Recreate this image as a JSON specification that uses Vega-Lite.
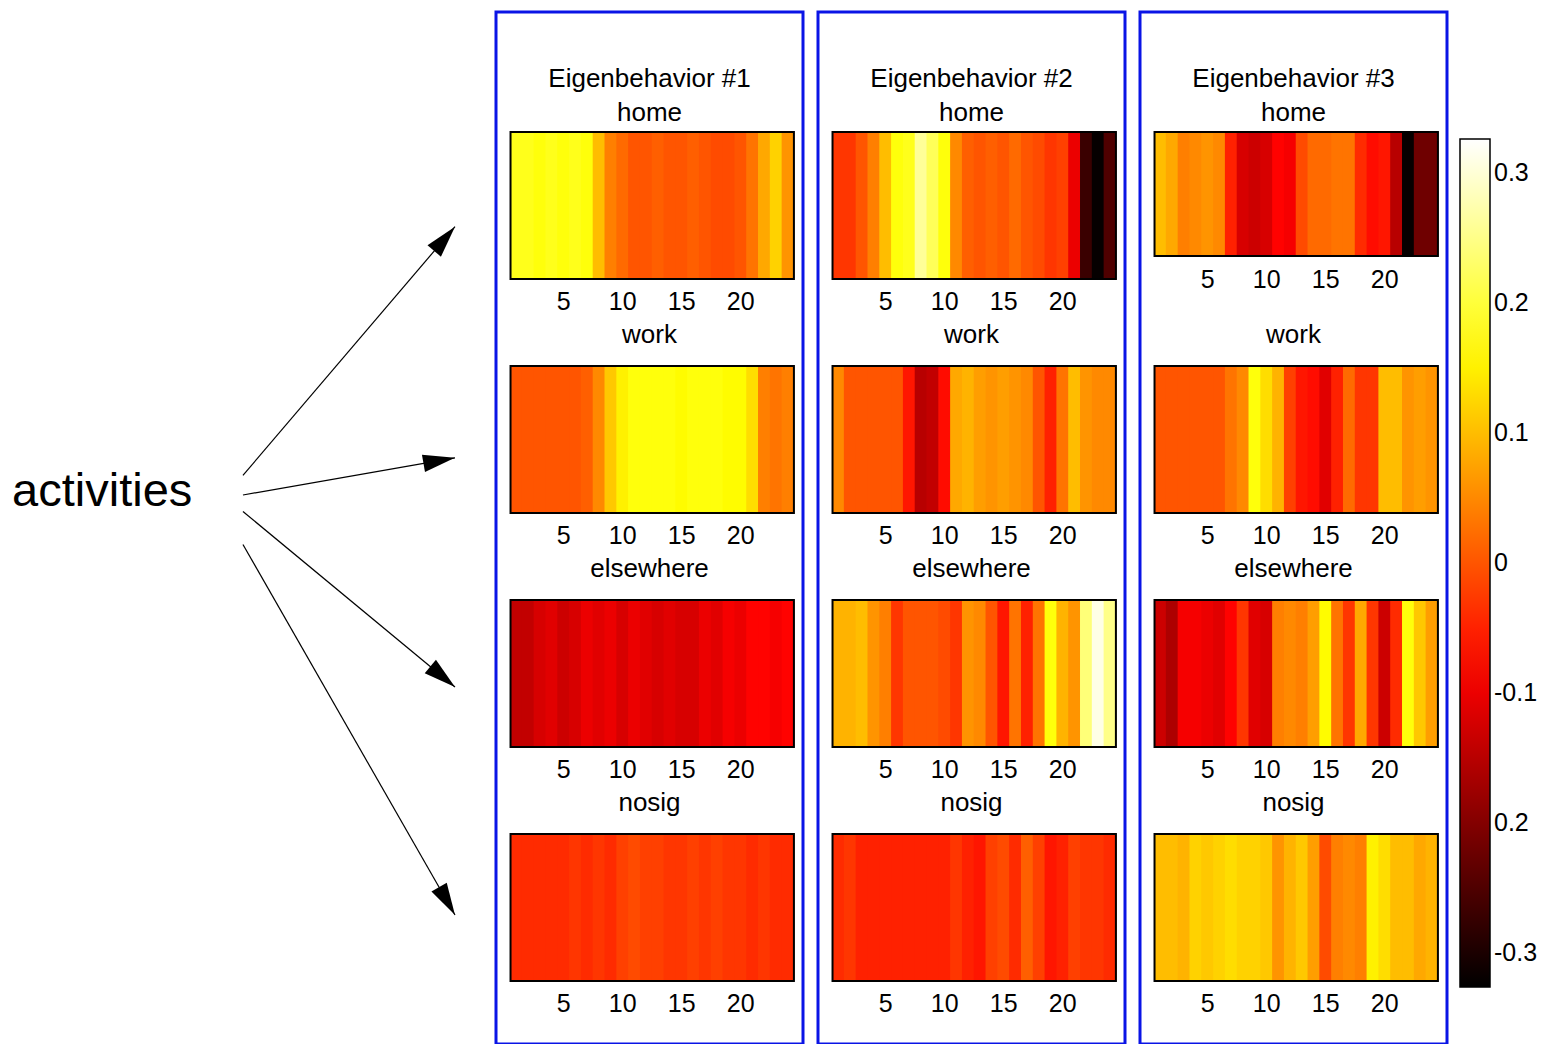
{
"$schema":"https://vega.github.io/schema/vega-lite/v6.json",
"padding":{"left":0,"top":10,"right":0,"bottom":0},
"background":"white",
"spacing":11,
"config":{"view":{"stroke":null},"font":"Liberation Sans"},
"datasets":{
"rows":[{"a":"home","h0":1,"h1":24},{"a":"work","h0":1,"h1":24},{"a":"elsewhere","h0":1,"h1":24},{"a":"nosig","h0":1,"h1":24}],
"arrows":[{"to":"home","x0":50.3,"y0":55.1,"x1":94.2,"y1":79.2},{"to":"work","x0":50.3,"y0":53.2,"x1":94.2,"y1":56.8},{"to":"elsewhere","x0":50.3,"y0":51.6,"x1":94.2,"y1":34.6},{"to":"nosig","x0":50.3,"y0":48.4,"x1":94.2,"y1":12.5}],
"cells":[
{"e":1,"a":"home","h":1,"v":0.18},{"e":1,"a":"home","h":2,"v":0.18},{"e":1,"a":"home","h":3,"v":0.17},{"e":1,"a":"home","h":4,"v":0.18},{"e":1,"a":"home","h":5,"v":0.17},{"e":1,"a":"home","h":6,"v":0.18},{"e":1,"a":"home","h":7,"v":0.17},{"e":1,"a":"home","h":8,"v":0.10},{"e":1,"a":"home","h":9,"v":0.04},{"e":1,"a":"home","h":10,"v":0.02},{"e":1,"a":"home","h":11,"v":0.00},{"e":1,"a":"home","h":12,"v":0.00},{"e":1,"a":"home","h":13,"v":0.01},{"e":1,"a":"home","h":14,"v":0.00},{"e":1,"a":"home","h":15,"v":0.00},{"e":1,"a":"home","h":16,"v":0.01},{"e":1,"a":"home","h":17,"v":0.00},{"e":1,"a":"home","h":18,"v":-0.01},{"e":1,"a":"home","h":19,"v":-0.01},{"e":1,"a":"home","h":20,"v":0.00},{"e":1,"a":"home","h":21,"v":0.03},{"e":1,"a":"home","h":22,"v":0.08},{"e":1,"a":"home","h":23,"v":0.12},{"e":1,"a":"home","h":24,"v":0.06},
{"e":1,"a":"work","h":1,"v":0.00},{"e":1,"a":"work","h":2,"v":0.00},{"e":1,"a":"work","h":3,"v":0.00},{"e":1,"a":"work","h":4,"v":0.00},{"e":1,"a":"work","h":5,"v":0.00},{"e":1,"a":"work","h":6,"v":0.00},{"e":1,"a":"work","h":7,"v":0.01},{"e":1,"a":"work","h":8,"v":0.05},{"e":1,"a":"work","h":9,"v":0.11},{"e":1,"a":"work","h":10,"v":0.15},{"e":1,"a":"work","h":11,"v":0.17},{"e":1,"a":"work","h":12,"v":0.17},{"e":1,"a":"work","h":13,"v":0.17},{"e":1,"a":"work","h":14,"v":0.17},{"e":1,"a":"work","h":15,"v":0.16},{"e":1,"a":"work","h":16,"v":0.17},{"e":1,"a":"work","h":17,"v":0.17},{"e":1,"a":"work","h":18,"v":0.17},{"e":1,"a":"work","h":19,"v":0.16},{"e":1,"a":"work","h":20,"v":0.16},{"e":1,"a":"work","h":21,"v":0.13},{"e":1,"a":"work","h":22,"v":0.04},{"e":1,"a":"work","h":23,"v":0.03},{"e":1,"a":"work","h":24,"v":0.04},
{"e":1,"a":"elsewhere","h":1,"v":-0.14},{"e":1,"a":"elsewhere","h":2,"v":-0.14},{"e":1,"a":"elsewhere","h":3,"v":-0.12},{"e":1,"a":"elsewhere","h":4,"v":-0.11},{"e":1,"a":"elsewhere","h":5,"v":-0.13},{"e":1,"a":"elsewhere","h":6,"v":-0.12},{"e":1,"a":"elsewhere","h":7,"v":-0.10},{"e":1,"a":"elsewhere","h":8,"v":-0.11},{"e":1,"a":"elsewhere","h":9,"v":-0.10},{"e":1,"a":"elsewhere","h":10,"v":-0.12},{"e":1,"a":"elsewhere","h":11,"v":-0.10},{"e":1,"a":"elsewhere","h":12,"v":-0.11},{"e":1,"a":"elsewhere","h":13,"v":-0.12},{"e":1,"a":"elsewhere","h":14,"v":-0.11},{"e":1,"a":"elsewhere","h":15,"v":-0.12},{"e":1,"a":"elsewhere","h":16,"v":-0.12},{"e":1,"a":"elsewhere","h":17,"v":-0.10},{"e":1,"a":"elsewhere","h":18,"v":-0.11},{"e":1,"a":"elsewhere","h":19,"v":-0.09},{"e":1,"a":"elsewhere","h":20,"v":-0.10},{"e":1,"a":"elsewhere","h":21,"v":-0.08},{"e":1,"a":"elsewhere","h":22,"v":-0.08},{"e":1,"a":"elsewhere","h":23,"v":-0.09},{"e":1,"a":"elsewhere","h":24,"v":-0.08},
{"e":1,"a":"nosig","h":1,"v":-0.04},{"e":1,"a":"nosig","h":2,"v":-0.04},{"e":1,"a":"nosig","h":3,"v":-0.04},{"e":1,"a":"nosig","h":4,"v":-0.04},{"e":1,"a":"nosig","h":5,"v":-0.04},{"e":1,"a":"nosig","h":6,"v":-0.03},{"e":1,"a":"nosig","h":7,"v":-0.04},{"e":1,"a":"nosig","h":8,"v":-0.03},{"e":1,"a":"nosig","h":9,"v":-0.04},{"e":1,"a":"nosig","h":10,"v":-0.02},{"e":1,"a":"nosig","h":11,"v":-0.01},{"e":1,"a":"nosig","h":12,"v":-0.02},{"e":1,"a":"nosig","h":13,"v":-0.02},{"e":1,"a":"nosig","h":14,"v":-0.03},{"e":1,"a":"nosig","h":15,"v":-0.03},{"e":1,"a":"nosig","h":16,"v":-0.02},{"e":1,"a":"nosig","h":17,"v":-0.03},{"e":1,"a":"nosig","h":18,"v":-0.02},{"e":1,"a":"nosig","h":19,"v":-0.03},{"e":1,"a":"nosig","h":20,"v":-0.03},{"e":1,"a":"nosig","h":21,"v":-0.04},{"e":1,"a":"nosig","h":22,"v":-0.03},{"e":1,"a":"nosig","h":23,"v":-0.04},{"e":1,"a":"nosig","h":24,"v":-0.04},
{"e":2,"a":"home","h":1,"v":-0.03},{"e":2,"a":"home","h":2,"v":-0.03},{"e":2,"a":"home","h":3,"v":0.00},{"e":2,"a":"home","h":4,"v":0.04},{"e":2,"a":"home","h":5,"v":0.10},{"e":2,"a":"home","h":6,"v":0.17},{"e":2,"a":"home","h":7,"v":0.18},{"e":2,"a":"home","h":8,"v":0.26},{"e":2,"a":"home","h":9,"v":0.22},{"e":2,"a":"home","h":10,"v":0.17},{"e":2,"a":"home","h":11,"v":0.05},{"e":2,"a":"home","h":12,"v":0.01},{"e":2,"a":"home","h":13,"v":0.00},{"e":2,"a":"home","h":14,"v":0.01},{"e":2,"a":"home","h":15,"v":0.00},{"e":2,"a":"home","h":16,"v":0.02},{"e":2,"a":"home","h":17,"v":0.00},{"e":2,"a":"home","h":18,"v":-0.01},{"e":2,"a":"home","h":19,"v":-0.03},{"e":2,"a":"home","h":20,"v":-0.02},{"e":2,"a":"home","h":21,"v":-0.10},{"e":2,"a":"home","h":22,"v":-0.27},{"e":2,"a":"home","h":23,"v":-0.32},{"e":2,"a":"home","h":24,"v":-0.25},
{"e":2,"a":"work","h":1,"v":0.05},{"e":2,"a":"work","h":2,"v":0.00},{"e":2,"a":"work","h":3,"v":0.00},{"e":2,"a":"work","h":4,"v":0.00},{"e":2,"a":"work","h":5,"v":0.00},{"e":2,"a":"work","h":6,"v":0.00},{"e":2,"a":"work","h":7,"v":-0.06},{"e":2,"a":"work","h":8,"v":-0.15},{"e":2,"a":"work","h":9,"v":-0.14},{"e":2,"a":"work","h":10,"v":-0.07},{"e":2,"a":"work","h":11,"v":0.08},{"e":2,"a":"work","h":12,"v":0.09},{"e":2,"a":"work","h":13,"v":0.07},{"e":2,"a":"work","h":14,"v":0.06},{"e":2,"a":"work","h":15,"v":0.07},{"e":2,"a":"work","h":16,"v":0.06},{"e":2,"a":"work","h":17,"v":0.05},{"e":2,"a":"work","h":18,"v":0.00},{"e":2,"a":"work","h":19,"v":-0.05},{"e":2,"a":"work","h":20,"v":0.03},{"e":2,"a":"work","h":21,"v":0.10},{"e":2,"a":"work","h":22,"v":0.06},{"e":2,"a":"work","h":23,"v":0.05},{"e":2,"a":"work","h":24,"v":0.05},
{"e":2,"a":"elsewhere","h":1,"v":0.09},{"e":2,"a":"elsewhere","h":2,"v":0.09},{"e":2,"a":"elsewhere","h":3,"v":0.10},{"e":2,"a":"elsewhere","h":4,"v":0.06},{"e":2,"a":"elsewhere","h":5,"v":0.04},{"e":2,"a":"elsewhere","h":6,"v":-0.03},{"e":2,"a":"elsewhere","h":7,"v":0.00},{"e":2,"a":"elsewhere","h":8,"v":0.00},{"e":2,"a":"elsewhere","h":9,"v":0.00},{"e":2,"a":"elsewhere","h":10,"v":-0.01},{"e":2,"a":"elsewhere","h":11,"v":-0.03},{"e":2,"a":"elsewhere","h":12,"v":0.06},{"e":2,"a":"elsewhere","h":13,"v":0.05},{"e":2,"a":"elsewhere","h":14,"v":0.00},{"e":2,"a":"elsewhere","h":15,"v":-0.06},{"e":2,"a":"elsewhere","h":16,"v":0.03},{"e":2,"a":"elsewhere","h":17,"v":-0.05},{"e":2,"a":"elsewhere","h":18,"v":0.03},{"e":2,"a":"elsewhere","h":19,"v":0.17},{"e":2,"a":"elsewhere","h":20,"v":0.09},{"e":2,"a":"elsewhere","h":21,"v":0.06},{"e":2,"a":"elsewhere","h":22,"v":0.24},{"e":2,"a":"elsewhere","h":23,"v":0.31},{"e":2,"a":"elsewhere","h":24,"v":0.25},
{"e":2,"a":"nosig","h":1,"v":-0.04},{"e":2,"a":"nosig","h":2,"v":-0.03},{"e":2,"a":"nosig","h":3,"v":-0.05},{"e":2,"a":"nosig","h":4,"v":-0.05},{"e":2,"a":"nosig","h":5,"v":-0.05},{"e":2,"a":"nosig","h":6,"v":-0.05},{"e":2,"a":"nosig","h":7,"v":-0.05},{"e":2,"a":"nosig","h":8,"v":-0.05},{"e":2,"a":"nosig","h":9,"v":-0.05},{"e":2,"a":"nosig","h":10,"v":-0.05},{"e":2,"a":"nosig","h":11,"v":-0.03},{"e":2,"a":"nosig","h":12,"v":-0.05},{"e":2,"a":"nosig","h":13,"v":-0.06},{"e":2,"a":"nosig","h":14,"v":-0.02},{"e":2,"a":"nosig","h":15,"v":-0.01},{"e":2,"a":"nosig","h":16,"v":-0.04},{"e":2,"a":"nosig","h":17,"v":0.01},{"e":2,"a":"nosig","h":18,"v":-0.02},{"e":2,"a":"nosig","h":19,"v":-0.06},{"e":2,"a":"nosig","h":20,"v":-0.05},{"e":2,"a":"nosig","h":21,"v":-0.02},{"e":2,"a":"nosig","h":22,"v":-0.03},{"e":2,"a":"nosig","h":23,"v":-0.03},{"e":2,"a":"nosig","h":24,"v":-0.04},
{"e":3,"a":"home","h":1,"v":0.10},{"e":3,"a":"home","h":2,"v":0.08},{"e":3,"a":"home","h":3,"v":0.04},{"e":3,"a":"home","h":4,"v":0.05},{"e":3,"a":"home","h":5,"v":0.06},{"e":3,"a":"home","h":6,"v":0.05},{"e":3,"a":"home","h":7,"v":-0.05},{"e":3,"a":"home","h":8,"v":-0.12},{"e":3,"a":"home","h":9,"v":-0.13},{"e":3,"a":"home","h":10,"v":-0.12},{"e":3,"a":"home","h":11,"v":-0.08},{"e":3,"a":"home","h":12,"v":-0.09},{"e":3,"a":"home","h":13,"v":-0.01},{"e":3,"a":"home","h":14,"v":0.02},{"e":3,"a":"home","h":15,"v":0.02},{"e":3,"a":"home","h":16,"v":0.03},{"e":3,"a":"home","h":17,"v":0.03},{"e":3,"a":"home","h":18,"v":-0.04},{"e":3,"a":"home","h":19,"v":-0.07},{"e":3,"a":"home","h":20,"v":-0.06},{"e":3,"a":"home","h":21,"v":-0.15},{"e":3,"a":"home","h":22,"v":-0.32},{"e":3,"a":"home","h":23,"v":-0.22},{"e":3,"a":"home","h":24,"v":-0.22},
{"e":3,"a":"work","h":1,"v":0.00},{"e":3,"a":"work","h":2,"v":0.00},{"e":3,"a":"work","h":3,"v":0.00},{"e":3,"a":"work","h":4,"v":0.00},{"e":3,"a":"work","h":5,"v":0.00},{"e":3,"a":"work","h":6,"v":0.00},{"e":3,"a":"work","h":7,"v":0.03},{"e":3,"a":"work","h":8,"v":0.05},{"e":3,"a":"work","h":9,"v":0.17},{"e":3,"a":"work","h":10,"v":0.13},{"e":3,"a":"work","h":11,"v":0.09},{"e":3,"a":"work","h":12,"v":-0.02},{"e":3,"a":"work","h":13,"v":-0.06},{"e":3,"a":"work","h":14,"v":-0.07},{"e":3,"a":"work","h":15,"v":-0.11},{"e":3,"a":"work","h":16,"v":-0.05},{"e":3,"a":"work","h":17,"v":0.02},{"e":3,"a":"work","h":18,"v":-0.03},{"e":3,"a":"work","h":19,"v":-0.03},{"e":3,"a":"work","h":20,"v":0.10},{"e":3,"a":"work","h":21,"v":0.10},{"e":3,"a":"work","h":22,"v":0.06},{"e":3,"a":"work","h":23,"v":0.07},{"e":3,"a":"work","h":24,"v":0.06},
{"e":3,"a":"elsewhere","h":1,"v":-0.13},{"e":3,"a":"elsewhere","h":2,"v":-0.16},{"e":3,"a":"elsewhere","h":3,"v":-0.09},{"e":3,"a":"elsewhere","h":4,"v":-0.09},{"e":3,"a":"elsewhere","h":5,"v":-0.10},{"e":3,"a":"elsewhere","h":6,"v":-0.11},{"e":3,"a":"elsewhere","h":7,"v":-0.08},{"e":3,"a":"elsewhere","h":8,"v":-0.03},{"e":3,"a":"elsewhere","h":9,"v":-0.11},{"e":3,"a":"elsewhere","h":10,"v":-0.12},{"e":3,"a":"elsewhere","h":11,"v":0.04},{"e":3,"a":"elsewhere","h":12,"v":0.05},{"e":3,"a":"elsewhere","h":13,"v":0.04},{"e":3,"a":"elsewhere","h":14,"v":0.07},{"e":3,"a":"elsewhere","h":15,"v":0.16},{"e":3,"a":"elsewhere","h":16,"v":0.03},{"e":3,"a":"elsewhere","h":17,"v":-0.03},{"e":3,"a":"elsewhere","h":18,"v":0.08},{"e":3,"a":"elsewhere","h":19,"v":-0.03},{"e":3,"a":"elsewhere","h":20,"v":-0.13},{"e":3,"a":"elsewhere","h":21,"v":-0.04},{"e":3,"a":"elsewhere","h":22,"v":0.17},{"e":3,"a":"elsewhere","h":23,"v":0.11},{"e":3,"a":"elsewhere","h":24,"v":0.07},
{"e":3,"a":"nosig","h":1,"v":0.10},{"e":3,"a":"nosig","h":2,"v":0.10},{"e":3,"a":"nosig","h":3,"v":0.09},{"e":3,"a":"nosig","h":4,"v":0.12},{"e":3,"a":"nosig","h":5,"v":0.11},{"e":3,"a":"nosig","h":6,"v":0.12},{"e":3,"a":"nosig","h":7,"v":0.13},{"e":3,"a":"nosig","h":8,"v":0.12},{"e":3,"a":"nosig","h":9,"v":0.12},{"e":3,"a":"nosig","h":10,"v":0.11},{"e":3,"a":"nosig","h":11,"v":0.06},{"e":3,"a":"nosig","h":12,"v":0.09},{"e":3,"a":"nosig","h":13,"v":0.11},{"e":3,"a":"nosig","h":14,"v":0.07},{"e":3,"a":"nosig","h":15,"v":-0.01},{"e":3,"a":"nosig","h":16,"v":0.04},{"e":3,"a":"nosig","h":17,"v":0.05},{"e":3,"a":"nosig","h":18,"v":0.04},{"e":3,"a":"nosig","h":19,"v":0.15},{"e":3,"a":"nosig","h":20,"v":0.13},{"e":3,"a":"nosig","h":21,"v":0.10},{"e":3,"a":"nosig","h":22,"v":0.10},{"e":3,"a":"nosig","h":23,"v":0.08},{"e":3,"a":"nosig","h":24,"v":0.09}
]},
"hconcat":[
{"width":483,"height":1032,"view":{"stroke":null},
 "layer":[
  {"data":{"name":"arrows"},"mark":{"type":"rule","color":"#000","strokeWidth":1.2},
   "encoding":{"x":{"field":"x0","type":"quantitative","scale":{"domain":[0,100],"nice":false,"zero":false},"axis":null},
               "y":{"field":"y0","type":"quantitative","scale":{"domain":[0,100],"nice":false,"zero":false},"axis":null},
               "x2":{"field":"x1"},"y2":{"field":"y1"}}},
  {"data":{"name":"arrows"},"transform":[{"calculate":"atan2((datum.x1-datum.x0)*4.83,(datum.y1-datum.y0)*10.32)*180/PI","as":"ang"}],
   "mark":{"type":"point","shape":"M0,0L0.55,2L-0.55,2Z","filled":true,"color":"#000","size":1024,"opacity":1},
   "encoding":{"x":{"field":"x1","type":"quantitative"},"y":{"field":"y1","type":"quantitative"},"angle":{"field":"ang","type":"quantitative","scale":null}}},
  {"data":{"values":[{"label":"activities"}]},"mark":{"type":"text","fontSize":47,"align":"left","baseline":"middle","font":"Liberation Sans","color":"#000"},
   "encoding":{"x":{"datum":2.5},"y":{"datum":53.5},"text":{"field":"label"}}}
 ]},
{"width":307,"height":1032,"view":{"stroke":"#0a14e6","strokeWidth":3},
 "layer":[
  {"data":{"name":"cells"},"transform":[{"filter":"datum.e==1"}],"mark":{"type":"rect","width":{"band":1.08}},
   "encoding":{"x":{"field":"h","type":"ordinal","scale":{"type":"band","domain":[1,2,3,4,5,6,7,8,9,10,11,12,13,14,15,16,17,18,19,20,21,22,23,24],"paddingInner":0,"paddingOuter":1.11,"align":0.615},"axis":null},
               "y":{"field":"a","type":"nominal","scale":{"type":"band","domain":["home","work","elsewhere","nosig"],"paddingInner":0.372,"paddingOuter":0.391,"align":0.656},"axis":null},
               "color":{"field":"v","type":"quantitative","scale":{"domain":[-0.326,-0.0815,0.163,0.326],"range":["#000000","#ff0000","#ffff00","#ffffff"],"interpolate":"rgb","nice":false,"zero":false},
                        "legend":{"orient":"none","legendX":1460,"legendY":127,"direction":"vertical","gradientLength":848,"gradientThickness":30,"title":null,"values":[-0.3,-0.2,-0.1,0,0.1,0.2,0.3],"labelExpr":"datum.value > 0.25 ? '0.3' : datum.value > 0.15 ? '0.2' : datum.value > 0.05 ? '0.1' : datum.value > -0.05 ? '0' : datum.value > -0.15 ? '-0.1' : datum.value > -0.25 ? '0.2' : '-0.3'","labelFont":"Liberation Sans","labelFontSize":25,"labelColor":"#000","labelOffset":4,"labelOverlap":false,"gradientStrokeColor":"#000","gradientStrokeWidth":1.5}}}},
  {"data":{"name":"rows"},"mark":{"type":"rect","filled":false,"stroke":"#000","strokeWidth":2},
   "encoding":{"x":{"field":"h0","type":"ordinal","bandPosition":0},"x2":{"field":"h1","bandPosition":1},"y":{"field":"a","type":"nominal"}}},
  {"data":{"name":"cells"},"transform":[{"filter":"datum.e==1 && datum.h%5==0"}],"mark":{"type":"text","dy":96,"baseline":"middle","fontSize":25,"font":"Liberation Sans","color":"#000"},
   "encoding":{"x":{"field":"h","type":"ordinal"},"y":{"field":"a","type":"nominal"},"text":{"field":"h"}}},
  {"data":{"name":"rows"},"transform":[{"filter":"datum.a=='home'"}],"mark":{"type":"text","dy":-92.5,"baseline":"middle","fontSize":26,"font":"Liberation Sans","color":"#000"},
   "encoding":{"y":{"field":"a","type":"nominal"},"text":{"field":"a"}}},
  {"data":{"name":"rows"},"transform":[{"filter":"datum.a!='home'"}],"mark":{"type":"text","dy":-105,"baseline":"middle","fontSize":26,"font":"Liberation Sans","color":"#000"},
   "encoding":{"y":{"field":"a","type":"nominal"},"text":{"field":"a"}}},
  {"data":{"name":"rows"},"transform":[{"filter":"datum.a=='home'"}],"mark":{"type":"text","dy":-126.5,"baseline":"middle","fontSize":26,"font":"Liberation Sans","color":"#000","text":"Eigenbehavior #1"},
   "encoding":{"y":{"field":"a","type":"nominal"}}}
 ]},
{"width":307,"height":1032,"view":{"stroke":"#0a14e6","strokeWidth":3},
 "layer":[
  {"data":{"name":"cells"},"transform":[{"filter":"datum.e==2"}],"mark":{"type":"rect","width":{"band":1.08}},
   "encoding":{"x":{"field":"h","type":"ordinal","scale":{"type":"band","domain":[1,2,3,4,5,6,7,8,9,10,11,12,13,14,15,16,17,18,19,20,21,22,23,24],"paddingInner":0,"paddingOuter":1.11,"align":0.615},"axis":null},
               "y":{"field":"a","type":"nominal","scale":{"type":"band","domain":["home","work","elsewhere","nosig"],"paddingInner":0.372,"paddingOuter":0.391,"align":0.656},"axis":null},
               "color":{"field":"v","type":"quantitative","scale":{"domain":[-0.326,-0.0815,0.163,0.326],"range":["#000000","#ff0000","#ffff00","#ffffff"],"interpolate":"rgb","nice":false,"zero":false},
                        "legend":{"orient":"none","legendX":1460,"legendY":127,"direction":"vertical","gradientLength":848,"gradientThickness":30,"title":null,"values":[-0.3,-0.2,-0.1,0,0.1,0.2,0.3],"labelExpr":"datum.value > 0.25 ? '0.3' : datum.value > 0.15 ? '0.2' : datum.value > 0.05 ? '0.1' : datum.value > -0.05 ? '0' : datum.value > -0.15 ? '-0.1' : datum.value > -0.25 ? '0.2' : '-0.3'","labelFont":"Liberation Sans","labelFontSize":25,"labelColor":"#000","labelOffset":4,"labelOverlap":false,"gradientStrokeColor":"#000","gradientStrokeWidth":1.5}}}},
  {"data":{"name":"rows"},"mark":{"type":"rect","filled":false,"stroke":"#000","strokeWidth":2},
   "encoding":{"x":{"field":"h0","type":"ordinal","bandPosition":0},"x2":{"field":"h1","bandPosition":1},"y":{"field":"a","type":"nominal"}}},
  {"data":{"name":"cells"},"transform":[{"filter":"datum.e==2 && datum.h%5==0"}],"mark":{"type":"text","dy":96,"baseline":"middle","fontSize":25,"font":"Liberation Sans","color":"#000"},
   "encoding":{"x":{"field":"h","type":"ordinal"},"y":{"field":"a","type":"nominal"},"text":{"field":"h"}}},
  {"data":{"name":"rows"},"transform":[{"filter":"datum.a=='home'"}],"mark":{"type":"text","dy":-92.5,"baseline":"middle","fontSize":26,"font":"Liberation Sans","color":"#000"},
   "encoding":{"y":{"field":"a","type":"nominal"},"text":{"field":"a"}}},
  {"data":{"name":"rows"},"transform":[{"filter":"datum.a!='home'"}],"mark":{"type":"text","dy":-105,"baseline":"middle","fontSize":26,"font":"Liberation Sans","color":"#000"},
   "encoding":{"y":{"field":"a","type":"nominal"},"text":{"field":"a"}}},
  {"data":{"name":"rows"},"transform":[{"filter":"datum.a=='home'"}],"mark":{"type":"text","dy":-126.5,"baseline":"middle","fontSize":26,"font":"Liberation Sans","color":"#000","text":"Eigenbehavior #2"},
   "encoding":{"y":{"field":"a","type":"nominal"}}}
 ]},
{"width":307,"height":1032,"view":{"stroke":"#0a14e6","strokeWidth":3},
 "layer":[
  {"data":{"name":"cells"},"transform":[{"filter":"datum.e==3 && datum.a!='home'"}],"mark":{"type":"rect","width":{"band":1.08}},
   "encoding":{"x":{"field":"h","type":"ordinal","scale":{"type":"band","domain":[1,2,3,4,5,6,7,8,9,10,11,12,13,14,15,16,17,18,19,20,21,22,23,24],"paddingInner":0,"paddingOuter":1.11,"align":0.615},"axis":null},
               "y":{"field":"a","type":"nominal","scale":{"type":"band","domain":["home","work","elsewhere","nosig"],"paddingInner":0.372,"paddingOuter":0.391,"align":0.656},"axis":null},
               "color":{"field":"v","type":"quantitative","scale":{"domain":[-0.326,-0.0815,0.163,0.326],"range":["#000000","#ff0000","#ffff00","#ffffff"],"interpolate":"rgb","nice":false,"zero":false},
                        "legend":{"orient":"none","legendX":1460,"legendY":127,"direction":"vertical","gradientLength":848,"gradientThickness":30,"title":null,"values":[-0.3,-0.2,-0.1,0,0.1,0.2,0.3],"labelExpr":"datum.value > 0.25 ? '0.3' : datum.value > 0.15 ? '0.2' : datum.value > 0.05 ? '0.1' : datum.value > -0.05 ? '0' : datum.value > -0.15 ? '-0.1' : datum.value > -0.25 ? '0.2' : '-0.3'","labelFont":"Liberation Sans","labelFontSize":25,"labelColor":"#000","labelOffset":4,"labelOverlap":false,"gradientStrokeColor":"#000","gradientStrokeWidth":1.5}}}},
  {"data":{"name":"cells"},"transform":[{"filter":"datum.e==3 && datum.a=='home'"}],"mark":{"type":"rect","width":{"band":1.08},"height":124,"yOffset":-11.5},
   "encoding":{"x":{"field":"h","type":"ordinal"},"y":{"field":"a","type":"nominal"},"color":{"field":"v","type":"quantitative"}}},
  {"data":{"name":"rows"},"transform":[{"filter":"datum.a!='home'"}],"mark":{"type":"rect","filled":false,"stroke":"#000","strokeWidth":2},
   "encoding":{"x":{"field":"h0","type":"ordinal","bandPosition":0},"x2":{"field":"h1","bandPosition":1},"y":{"field":"a","type":"nominal"}}},
  {"data":{"name":"rows"},"transform":[{"filter":"datum.a=='home'"}],"mark":{"type":"rect","filled":false,"stroke":"#000","strokeWidth":2,"height":124,"yOffset":-11.5},
   "encoding":{"x":{"field":"h0","type":"ordinal","bandPosition":0},"x2":{"field":"h1","bandPosition":1},"y":{"field":"a","type":"nominal"}}},
  {"data":{"name":"cells"},"transform":[{"filter":"datum.e==3 && datum.h%5==0 && datum.a!='home'"}],"mark":{"type":"text","dy":96,"baseline":"middle","fontSize":25,"font":"Liberation Sans","color":"#000"},
   "encoding":{"x":{"field":"h","type":"ordinal"},"y":{"field":"a","type":"nominal"},"text":{"field":"h"}}},
  {"data":{"name":"cells"},"transform":[{"filter":"datum.e==3 && datum.h%5==0 && datum.a=='home'"}],"mark":{"type":"text","dy":74.5,"baseline":"middle","fontSize":25,"font":"Liberation Sans","color":"#000"},
   "encoding":{"x":{"field":"h","type":"ordinal"},"y":{"field":"a","type":"nominal"},"text":{"field":"h"}}},
  {"data":{"name":"rows"},"transform":[{"filter":"datum.a=='home'"}],"mark":{"type":"text","dy":-92.5,"baseline":"middle","fontSize":26,"font":"Liberation Sans","color":"#000"},
   "encoding":{"y":{"field":"a","type":"nominal"},"text":{"field":"a"}}},
  {"data":{"name":"rows"},"transform":[{"filter":"datum.a!='home'"}],"mark":{"type":"text","dy":-105,"baseline":"middle","fontSize":26,"font":"Liberation Sans","color":"#000"},
   "encoding":{"y":{"field":"a","type":"nominal"},"text":{"field":"a"}}},
  {"data":{"name":"rows"},"transform":[{"filter":"datum.a=='home'"}],"mark":{"type":"text","dy":-126.5,"baseline":"middle","fontSize":26,"font":"Liberation Sans","color":"#000","text":"Eigenbehavior #3"},
   "encoding":{"y":{"field":"a","type":"nominal"}}}
 ]}
],
"resolve":{"scale":{"color":"shared","x":"independent","y":"independent"}}
}
